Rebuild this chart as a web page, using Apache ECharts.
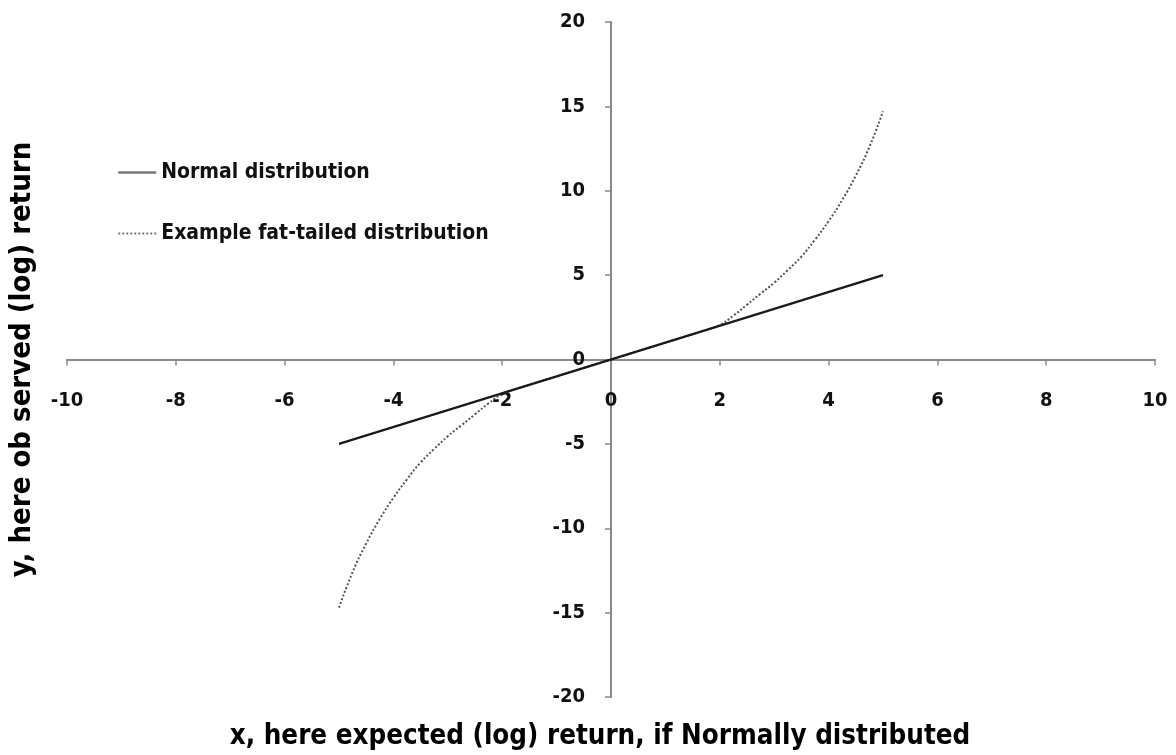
<!DOCTYPE html>
<html>
<head>
<meta charset="utf-8">
<script src="https://cdn.jsdelivr.net/npm/echarts@6/dist/echarts.min.js"></script>
<style>
html,body{margin:0;padding:0;background:#fff;}
#chart{width:1176px;height:755px;}
</style>
</head>
<body>
<div id="chart"></div>
<script>
var seriesNames = ['Normal distribution', 'Example fat-tailed distribution'];
var normalX = [-5, 5];
var normalY = [-5, 5];
var fatX = [-5, -4.75, -4.5, -4.25, -4, -3.75, -3.5, -3.25, -3, -2.75, -2.5, -2.25, -2, -1.5, -1, -0.5, 0, 0.5, 1, 1.5, 2, 2.25, 2.5, 2.75, 3, 3.25, 3.5, 3.75, 4, 4.25, 4.5, 4.75, 5];
var fatY = [-14.7, -12.6, -10.9, -9.45, -8.2, -7.1, -6.1, -5.3, -4.55, -3.9, -3.25, -2.6, -2.05, -1.5, -1, -0.5, 0, 0.5, 1, 1.5, 2.05, 2.6, 3.25, 3.9, 4.55, 5.3, 6.1, 7.1, 8.2, 9.45, 10.9, 12.6, 14.7];
var xTitle = 'x, here expected (log) return, if Normally distributed';
var yTitle = 'y, here ob served (log) return';

function pairs(xs, ys) { return xs.map(function (v, i) { return [v, ys[i]]; }); }

var FONT = '"DejaVu Sans Condensed", "Liberation Sans Narrow", "Liberation Sans", Arial, sans-serif';
var chart = echarts.init(document.getElementById('chart'));
chart.setOption({
  animation: false,
  backgroundColor: '#ffffff',
  grid: { left: 67, right: 21, top: 22, bottom: 58, containLabel: false, outerBoundsMode: 'none' },
  legend: {
    orient: 'vertical',
    left: 112,
    top: 157,
    itemGap: 40,
    itemWidth: 38,
    itemHeight: 14,
    itemStyle: { opacity: 0 },
    textStyle: { fontFamily: FONT, fontWeight: 'bold', fontSize: 21, color: '#111' },
    data: [
      { name: seriesNames[0], lineStyle: { color: '#777777', width: 2.5 } },
      { name: seriesNames[1], lineStyle: { color: '#777777', width: 2 } }
    ]
  },
  xAxis: {
    type: 'value',
    min: -10, max: 10, interval: 2,
    axisLine: { onZero: true, lineStyle: { color: '#8a8a8a', width: 2 } },
    axisTick: { show: true, length: 6, lineStyle: { color: '#8a8a8a', width: 1.5 } },
    axisLabel: { margin: -306, fontFamily: FONT, fontWeight: 'bold', fontSize: 20, color: '#111' },
    splitLine: { show: false },
    name: xTitle,
    nameLocation: 'middle',
    nameGap: 26,
    nameTextStyle: { fontFamily: FONT, fontWeight: 'bold', fontSize: 27.5, color: '#000', padding: [0, 22, 0, 0] }
  },
  yAxis: {
    type: 'value',
    min: -20, max: 20, interval: 5,
    axisLine: { onZero: true, lineStyle: { color: '#8a8a8a', width: 2 } },
    axisTick: { show: true, length: 6, lineStyle: { color: '#8a8a8a', width: 1.5 } },
    axisLabel: { margin: -518, fontFamily: FONT, fontWeight: 'bold', fontSize: 20, color: '#111' },
    splitLine: { show: false },
    name: yTitle,
    nameLocation: 'middle',
    nameGap: 30,
    nameTextStyle: { fontFamily: FONT, fontWeight: 'bold', fontSize: 29, color: '#000' }
  },
  series: [
    {
      name: seriesNames[0],
      type: 'line',
      data: pairs(normalX, normalY),
      symbol: 'none',
      lineStyle: { color: '#1a1a1a', width: 2.2, type: 'solid' },
      itemStyle: { color: '#666' },
      z: 3
    },
    {
      name: seriesNames[1],
      type: 'line',
      data: pairs(fatX, fatY),
      symbol: 'none',
      smooth: true,
      lineStyle: { color: '#555', width: 2, type: [2, 2] },
      itemStyle: { color: '#666' },
      z: 2
    }
  ]
});
</script>
</body>
</html>
